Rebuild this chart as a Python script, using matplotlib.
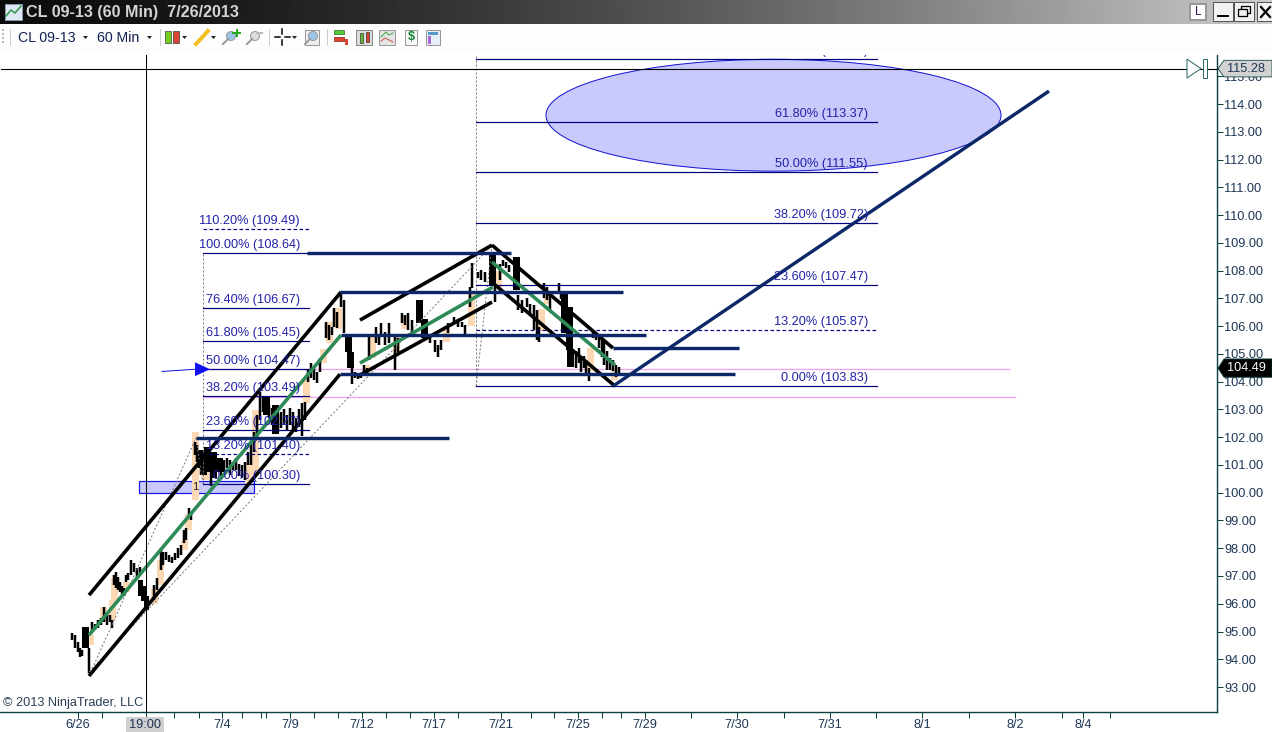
#!/usr/bin/env python3
"""CL 09-13 60 min chart, NinjaTrader window look"""
import numpy as np
import matplotlib
matplotlib.use('Agg')
import matplotlib.pyplot as plt
from matplotlib.patches import Ellipse, Rectangle, Polygon, Circle

plt.rcParams['font.family'] = ['Liberation Sans', 'DejaVu Sans']

# thin price bars
bar_x = [72, 75, 78, 80, 82, 89, 92, 95, 98, 101, 104, 107, 110, 112, 114, 116, 118, 120, 122, 124,
         126, 128, 131, 134, 137, 140, 154, 157, 161, 163, 166, 169, 172, 175, 178, 181, 184, 186, 189, 191,
         195, 197, 199, 201, 211, 215, 218, 221, 224, 227, 230, 233, 236, 239, 242, 245, 248, 251, 254, 257,
         260, 263, 266, 269, 272, 278, 281, 284, 287, 290, 293, 296, 299, 302, 305,
         308, 311, 314, 317, 320, 326, 329, 332, 334, 337, 341, 344, 352, 355, 358, 361, 364, 367, 369,
         376, 379, 381, 385, 389, 395, 398, 402, 405, 408, 412, 430, 435, 438, 441, 448, 454, 458, 462, 465,
         470, 472, 478, 481, 485, 495, 500, 503, 506, 509, 518, 522, 527, 530, 534, 537, 539,
         544, 547, 550, 559, 561, 576, 579, 581, 584, 586, 589, 593, 596, 599, 602, 604, 607, 610, 613, 616, 619]
bar_high = [94.95, 94.87, 94.62, 94.40, 94.33, 94.40, 95.34, 95.27, 95.41, 95.49, 95.88, 95.70, 95.59, 95.41, 97.03, 97.14, 96.96, 96.78, 96.64, 96.57,
            97.03, 97.11, 97.57, 97.47, 97.29, 97.32, 96.67, 96.93, 98.01, 97.86, 97.86, 97.75, 97.68, 97.83, 98.01, 98.11, 98.66, 98.73, 99.45, 99.30,
            101.82, 101.72, 101.54, 101.36, 100.74, 101.36, 101.25, 101.10, 101.18, 101.25, 101.18, 101.10, 101.25, 101.03, 101.00, 101.10, 101.47, 101.82, 102.19, 102.80,
            103.63, 103.45, 103.34, 103.16, 103.05, 102.80, 102.91, 103.00, 102.80, 103.05, 102.91, 102.69, 103.00, 103.23, 103.27,
            104.42, 104.67, 104.53, 104.35, 104.85, 106.15, 106.04, 105.97, 106.65, 106.51, 107.19, 106.94, 104.49, 104.35, 104.24, 104.24, 104.60, 104.49, 105.61,
            105.97, 105.68, 106.11, 105.79, 106.11, 105.68, 105.57, 106.47, 106.40, 106.47, 106.22, 105.57, 105.50, 105.32, 105.50, 106.11, 106.33, 106.26, 106.15, 106.04,
            107.41, 108.27, 107.95, 108.02, 107.95, 107.48, 108.24, 108.38, 108.31, 108.20, 107.12, 106.94, 107.00, 106.80, 106.76, 106.58, 105.97,
            107.55, 107.41, 107.12, 107.55, 107.27, 105.10, 105.21, 104.92, 104.92, 104.78, 104.49, 105.86, 105.75, 105.68, 105.50, 105.43, 105.10, 104.85, 104.78, 104.60, 104.53]
bar_low = [94.69, 94.40, 94.26, 94.08, 94.12, 93.50, 94.98, 95.05, 95.13, 95.23, 95.34, 95.23, 95.34, 95.13, 96.67, 96.57, 96.49, 96.42, 96.35, 96.28,
           96.78, 96.85, 97.03, 97.14, 96.96, 97.03, 96.13, 96.49, 97.21, 97.39, 97.57, 97.50, 97.47, 97.57, 97.65, 97.75, 98.19, 98.30, 99.16, 99.02,
           101.36, 101.10, 100.89, 100.64, 100.24, 100.82, 100.74, 100.60, 100.74, 100.89, 100.64, 100.82, 100.82, 100.60, 100.53, 100.46, 101.00, 101.00, 101.46, 101.90,
           102.62, 102.91, 102.80, 102.69, 102.44, 102.19, 102.33, 102.44, 102.26, 102.44, 102.26, 102.19, 102.35, 102.04, 102.62,
           103.99, 104.13, 104.06, 103.95, 104.35, 105.57, 105.50, 105.68, 105.97, 105.93, 106.69, 105.75, 103.91, 104.13, 104.10, 104.13, 104.31, 104.24, 104.78,
           105.39, 105.32, 105.68, 105.32, 105.39, 104.42, 105.07, 106.11, 106.04, 105.86, 105.79, 105.39, 105.07, 104.89, 105.14, 105.75, 106.11, 105.97, 105.97, 105.68,
           106.69, 107.37, 107.73, 107.66, 107.59, 106.87, 107.66, 108.16, 108.09, 107.95, 106.58, 106.47, 106.69, 106.40, 105.86, 105.50, 105.43,
           107.01, 106.94, 106.58, 107.27, 106.98, 104.49, 104.67, 104.35, 104.49, 104.24, 104.02, 105.57, 105.50, 105.21, 104.89, 104.60, 104.42, 104.42, 104.38, 104.17, 104.24]

# heavy candle bodies
body_x = [85, 203, 207, 213, 219, 266, 275, 348, 350, 419, 424, 492, 516, 564, 569, 570]
body_top = [95.16, 101.54, 101.64, 101.47, 101.25, 103.45, 103.16, 105.68, 105.07, 106.94, 106.26, 108.63, 108.49, 107.19, 106.69, 105.14]
body_bot = [94.40, 100.64, 100.74, 100.53, 100.74, 102.80, 102.11, 105.07, 104.49, 106.11, 105.57, 107.48, 107.30, 105.75, 105.14, 104.53]
blob_x = [140, 143, 146]
blob_top = [96.85, 96.64, 96.28]
blob_bot = [96.28, 96.10, 95.77]

# peach candles
peach_x = [90, 103, 112, 114, 126, 154, 160, 184, 188, 195, 205, 248, 255, 306, 323, 329, 338, 366, 372, 396, 404, 446, 471, 498, 541, 547, 590, 614]
peach_top = [94.87, 95.88, 96.13, 96.93, 96.78, 96.57, 97.57, 98.30, 99.23, 102.19, 101.36, 101.10, 102.98, 104.13, 105.18, 106.15, 106.65, 104.60, 105.61, 105.68, 106.33, 106.00, 107.16, 107.98, 106.62, 107.19, 105.21, 104.49]
peach_bot = [94.51, 95.34, 95.41, 96.13, 96.42, 95.99, 96.67, 97.93, 98.66, 99.74, 100.46, 100.32, 100.62, 103.23, 104.67, 105.39, 105.90, 104.31, 104.85, 104.96, 105.90, 105.43, 106.00, 107.37, 105.83, 106.80, 104.38, 104.06]

# pitchfork channels
black_x = [[89, 341], [89, 340], [360, 492], [358, 492], [492, 613], [493, 615]]
black_y = [[96.31, 107.23], [93.40, 104.27], [106.22, 108.92], [104.20, 106.87], [108.92, 105.21], [107.55, 103.84]]
green_x = [[89, 341], [360, 493], [492, 615]]
green_y = [[94.87, 105.68], [104.67, 107.41], [108.31, 104.60]]

navy_x = [[307, 511], [340, 623], [341, 646], [613, 739], [340, 735], [196, 449], [613, 1049]]
navy_y = [[108.64, 108.64], [107.23, 107.23], [105.68, 105.68], [105.21, 105.21], [104.27, 104.27], [101.97, 101.97], [103.84, 114.47]]

# fibonacci tools
fib1_pct = ['110.20%', '100.00%', '76.40%', '61.80%', '50.00%', '38.20%', '23.60%', '13.20%', '0.00%']
fib1_val = [109.49, 108.64, 106.67, 105.45, 104.47, 103.49, 102.27, 101.40, 100.30]
fib1_dash = [True, False, False, False, False, False, False, True, False]
fib2_pct = ['76.40%', '61.80%', '50.00%', '38.20%', '23.60%', '13.20%', '0.00%']
fib2_val = [115.63, 113.37, 111.55, 109.72, 107.47, 105.87, 103.83]
fib2_dash = [False, False, False, False, False, True, False]

# thin dashed pattern lines
dash_x = [[89, 196], [196, 203], [89, 492], [492, 476]]
dash_y = [[93.40, 101.97], [101.97, 100.30], [93.54, 108.92], [108.92, 103.83]]

y_ticks = list(range(93, 116))
x_major = [78, 222, 290, 362, 434, 501, 578, 645, 737, 830, 922, 1015, 1083]
x_labels = ['6/26', '7/4', '7/9', '7/12', '7/17', '7/21', '7/25', '7/29', '7/30', '7/31', '8/1', '8/2', '8/4']
x_minor = [102, 146, 174, 199, 242, 261, 266, 314, 338, 386, 410, 458, 531, 554, 602, 621, 691, 784, 876, 969, 1062, 1110]

last_price = 104.49
cross_price = 115.28
cross_x = 146

NAVY = '#0d2868'
FIB = '#00007f'
FIB_TXT = '#2222a8'
TEAL = '#0a4040'
TXT = '#1c3556'
FS = 9.15


def px(n):
    return n * 0.72


fig = plt.figure(figsize=(12.72, 7.32), dpi=100, facecolor='white')
ax = fig.add_axes([0, 20 / 732, 1217 / 1272, 657 / 732])
ax.set_xlim(0, 1217)
ax.set_ylim(92.10, 115.77)
for s in ['top', 'left']:
    ax.spines[s].set_visible(False)
for s in ['right', 'bottom']:
    ax.spines[s].set_color(TEAL)
    ax.spines[s].set_linewidth(px(1.4))

ax.yaxis.tick_right()
ax.set_yticks(y_ticks)
ax.set_yticklabels(['%.2f' % v for v in y_ticks], fontsize=FS, color=TXT)
ax.tick_params(axis='y', length=px(6), width=px(1), color=TEAL, pad=1)
ax.set_xticks(x_major)
ax.set_xticklabels(x_labels, fontsize=FS, color=TXT)
ax.set_xticks(x_minor, minor=True)
ax.tick_params(axis='x', which='both', length=px(6), width=px(1), color=TEAL, pad=1)

# ellipse and zone under everything else
ax.add_patch(Ellipse((773.5, 113.60), 455, 4.03, fc='#c9c9fb', ec='#1414d2', lw=px(1), zorder=1))
ax.add_patch(Rectangle((139, 99.99), 115, 0.43, fc='#c9c9fb', ec='#1414e0', lw=px(1.2), zorder=1))

# pink lines
ax.plot([203, 1009], [104.45, 104.45], color='#f0a4f0', lw=px(1.3), zorder=1.5)
ax.plot([203, 1015], [103.45, 103.45], color='#f0a4f0', lw=px(1.3), zorder=1.5)

# peach candles, then black bars
ax.bar(peach_x, np.array(peach_top) - np.array(peach_bot), bottom=peach_bot, width=7,
       color='#fcd8b4', lw=0, zorder=2)
ax.vlines(bar_x, bar_low, bar_high, color='black', lw=px(2.5), zorder=3)
ax.bar(body_x, np.array(body_top) - np.array(body_bot), bottom=body_bot, width=7,
       color='black', lw=0, zorder=3)
ax.bar(blob_x, np.array(blob_top) - np.array(blob_bot), bottom=blob_bot, width=5,
       color='black', lw=0, zorder=3)

for xs, ys in zip(dash_x, dash_y):
    ax.plot(xs, ys, color='#777777', lw=px(1), ls=(0, (2, 2)), zorder=3.5)
ax.plot([203, 203], [100.30, 108.64], color='#777777', lw=px(1), ls=(0, (2, 2)), zorder=3.5)
ax.plot([476, 476], [103.83, 115.77], color='#777777', lw=px(1), ls=(0, (2, 2)), zorder=3.5)

for v, pct, d in zip(fib1_val, fib1_pct, fib1_dash):
    ax.plot([203, 309], [v, v], color=FIB, lw=px(1.2), ls=(0, (3, 2)) if d else '-', zorder=4)
    ax.annotate('%s (%.2f)' % (pct, v), (300, v), xytext=(0, 1.5), textcoords='offset points',
                ha='right', va='bottom', fontsize=FS, color=FIB_TXT, zorder=6)
for v, pct, d in zip(fib2_val, fib2_pct, fib2_dash):
    ax.plot([476, 877], [v, v], color=FIB, lw=px(1.2), ls=(0, (3, 2)) if d else '-', zorder=4)
    ax.annotate('%s (%.2f)' % (pct, v), (868, v), xytext=(0, 1.5), textcoords='offset points',
                ha='right', va='bottom', fontsize=FS, color=FIB_TXT, zorder=6,
                annotation_clip=False, clip_on=True)

for xs, ys in zip(black_x, black_y):
    ax.plot(xs, ys, color='black', lw=px(3.6), solid_capstyle='butt', zorder=5)
for xs, ys in zip(green_x, green_y):
    ax.plot(xs, ys, color='#2e8b57', lw=px(3.6), solid_capstyle='butt', zorder=5.2)
for xs, ys in zip(navy_x, navy_y):
    ax.plot(xs, ys, color=NAVY, lw=px(3.4), solid_capstyle='butt', zorder=5.4)

# crosshair
ax.axvline(cross_x, color='black', lw=px(1), zorder=5.5)
ax.plot([1, 1217], [cross_price, cross_price], color='black', lw=px(1.1), zorder=5.5)

# blue arrow
ax.plot([162, 196], [104.37, 104.45], color='#1414e0', lw=px(1), zorder=6)
ax.add_patch(Polygon([[195, 104.70], [210, 104.45], [195, 104.20]], fc='#1010f0', ec='none', zorder=6))
ax.text(195, 100.2, '1', fontsize=FS - 1, color='#222222', ha='center', va='center', zorder=6)
ax.text(3, 92.42, '\u00a9 2013 NinjaTrader, LLC', fontsize=FS, color='#2a3f55', ha='left', va='center', zorder=6)

# replay marker at the right end of the crosshair
ax.add_patch(Polygon([[1187, 115.62], [1201, 115.28], [1187, 114.94]], fc='white', ec='#2f6a6a', lw=px(1), zorder=6))
ax.add_patch(Rectangle((1203, 114.94), 4, 0.68, fc='white', ec='#2f6a6a', lw=px(1), zorder=6))

# price tags, above the tick labels
tag = fig.add_axes(ax.get_position(), sharex=ax, sharey=ax, zorder=4)
tag.axis('off')
tag.patch.set_alpha(0)
tag.add_patch(Polygon([[1218, cross_price], [1224, cross_price + 0.3], [1272, cross_price + 0.3],
                       [1272, cross_price - 0.3], [1224, cross_price - 0.3]],
                      fc='#d2d2d2', ec=TEAL, lw=px(0.8), clip_on=False))
tag.text(1227, cross_price, '%.2f' % cross_price, fontsize=FS, color=TXT, va='center', clip_on=False)
tag.add_patch(Polygon([[1218, last_price], [1224, last_price + 0.33], [1272, last_price + 0.33],
                       [1272, last_price - 0.33], [1224, last_price - 0.33]],
                      fc='black', ec=TEAL, lw=px(0.8), clip_on=False))
tag.text(1227, last_price, '%.2f' % last_price, fontsize=FS, color='white', va='center', clip_on=False)

chrome = fig.add_axes([0, 0, 1, 1], zorder=6)
chrome.patch.set_alpha(0)
chrome.axis('off')
chrome.imshow((0.05 + 0.75 * np.linspace(0, 1, 512) ** 1.5).reshape(1, -1), cmap='gray', vmin=0, vmax=1,
              extent=[0, 1272, 24, 0], aspect='auto')
chrome.set_xlim(0, 1272)
chrome.set_ylim(732, 0)

# highlighted crosshair time on the x axis
chrome.add_patch(Rectangle((126, 717), 38, 15, fc='#cfcfcf', ec='none'))
chrome.text(145, 725, '19:00', fontsize=FS, color=TXT, ha='center', va='center')

# title bar
chrome.add_patch(Rectangle((5, 4), 17, 16, fc='#dfe6f5', ec='#8899aa', lw=px(1)))
chrome.plot([6, 11, 15, 21], [16, 10, 13, 6], color='#2a9a40', lw=px(1.5))
chrome.text(26, 12.5, 'CL 09-13 (60 Min)  7/26/2013', fontsize=11.6, fontweight='bold', color='#d4d4d4', va='center')
chrome.add_patch(Rectangle((1190, 4), 16, 16, fc='white', ec='#999999', lw=px(2)))
chrome.text(1198, 12, 'L', fontsize=8.5, color='#301050', ha='center', va='center')
for x0, x1 in [(1213, 1233), (1234, 1254), (1257, 1272)]:
    chrome.add_patch(Rectangle((x0, 2), x1 - x0, 19, fc='#f2f2f2', ec='#555555', lw=px(1)))
chrome.plot([1218, 1228], [16, 16], color='black', lw=px(2))
chrome.add_patch(Rectangle((1241, 6), 9, 7, fc='none', ec='black', lw=px(1.3)))
chrome.add_patch(Rectangle((1238, 9), 9, 7, fc='#f2f2f2', ec='black', lw=px(1.3)))
chrome.plot([1261, 1270], [7, 17], color='black', lw=px(2.2))
chrome.plot([1261, 1270], [17, 7], color='black', lw=px(2.2))

# toolbar
chrome.add_patch(Rectangle((0, 24), 1272, 27, fc='#fdfdfd', ec='none'))
chrome.plot([10, 10], [29, 45], color='#cccccc', lw=px(1))
chrome.plot([3, 3], [29, 43], color='#bbbbbb', lw=px(2), ls=(0, (1, 1)))
chrome.text(18, 37.5, 'CL 09-13', fontsize=10.2, color='#102050', va='center')
chrome.text(97, 37.5, '60 Min', fontsize=10.2, color='#102050', va='center')


def drop(x):
    chrome.add_patch(Polygon([[x, 36], [x + 5, 36], [x + 2.5, 39]], fc='#222222', ec='none'))


def lens(x, c='#9fc4ea'):
    chrome.add_patch(Circle((x + 5, 36), 4.5, fc=c, ec='#999999', lw=px(1)))
    chrome.plot([x - 3, x + 2], [44, 39], color='#999999', lw=px(2))


for x in [83, 147, 182, 211, 292]:
    drop(x)
chrome.plot([160, 160], [29, 45], color='#cccccc', lw=px(1))
for x, c in [(168, '#77cc22'), (176, '#dd4433')]:
    chrome.add_patch(Rectangle((x - 3, 31), 6, 12, fc=c, ec='#445544', lw=px(0.8)))
chrome.plot([196, 208], [44, 31], color='#f0c020', lw=px(4))
lens(226)
chrome.plot([233, 240], [33, 33], color='#22aa22', lw=px(2))
chrome.plot([236.5, 236.5], [30, 36], color='#22aa22', lw=px(2))
lens(250, '#dddddd')
chrome.plot([257, 262], [33, 33], color='#bbbbbb', lw=px(2))
chrome.plot([269, 269], [29, 45], color='#cccccc', lw=px(1))
chrome.plot([275, 280], [37, 37], color='black', lw=px(1.5))
chrome.plot([285, 290], [37, 37], color='black', lw=px(1.5))
chrome.plot([282, 282], [29, 34], color='black', lw=px(1.5))
chrome.plot([282, 282], [40, 45], color='black', lw=px(1.5))
chrome.add_patch(Rectangle((305, 30), 14, 15, fc='#eeeeee', ec='#999999', lw=px(1)))
lens(308)
chrome.plot([327, 327], [29, 45], color='#cccccc', lw=px(1))
chrome.add_patch(Rectangle((334, 30), 10, 4, fc='#55cc33', ec='#447733', lw=px(0.8)))
chrome.add_patch(Rectangle((334, 37), 10, 4, fc='#dd4433', ec='#883322', lw=px(0.8)))
chrome.add_patch(Rectangle((345, 39), 3, 6, fc='#dd4433', ec='none'))
chrome.add_patch(Rectangle((356, 30), 16, 15, fc='#dddddd', ec='#888888', lw=px(1)))
chrome.add_patch(Rectangle((360, 33), 3, 10, fc='#66bb33', ec='#333333', lw=px(0.7)))
chrome.add_patch(Rectangle((366, 32), 3, 10, fc='#dd4433', ec='#333333', lw=px(0.7)))
chrome.add_patch(Rectangle((379, 30), 16, 15, fc='#e4e4e4', ec='#999999', lw=px(1)))
chrome.plot([381, 386, 389, 393], [37, 32, 35, 33], color='#44aa44', lw=px(1))
chrome.plot([381, 385, 389, 393], [41, 38, 40, 42], color='#cc5544', lw=px(1))
chrome.add_patch(Rectangle((405, 30), 12, 15, fc='#f8f8f8', ec='#999999', lw=px(1)))
chrome.text(411, 37.5, '$', fontsize=9, fontweight='bold', color='#118833', ha='center', va='center')
chrome.add_patch(Rectangle((426, 30), 14, 15, fc='#e8eef8', ec='#999999', lw=px(1)))
chrome.add_patch(Rectangle((428, 32), 10, 2.5, fc='#5599cc', ec='none'))
chrome.add_patch(Rectangle((428, 36), 2.5, 8, fc='#aa66dd', ec='none'))

fig.savefig('out.png', dpi=100)
